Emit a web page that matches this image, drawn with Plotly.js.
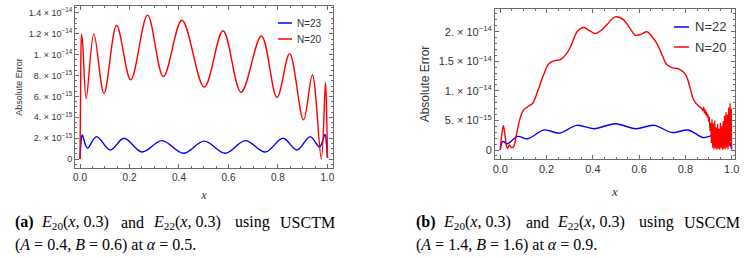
<!DOCTYPE html>
<html><head><meta charset="utf-8">
<script src="https://cdn.plot.ly/plotly-3.0.1.min.js"></script>
<style>html,body{margin:0;padding:0;background:#fff}#chart{width:754px;height:258px}</style>
</head><body><div id="chart"></div>
<script>
// values in units of 1e-15
const UNIT = 1e-15;

// ---- Panel (a): USCTM ----
const aN23x = [0, 0.004, 0.009, 0.03, 0.067, 0.122, 0.178, 0.25, 0.331, 0.418, 0.502, 0.587, 0.668, 0.749, 0.82, 0.877, 0.93, 0.968, 0.99, 0.996, 1.0];
const aN23y = [0, 1.6, 2.3, 1.05, 2.15, 0.87, 1.99, 0.67, 1.76, 0.55, 1.72, 0.55, 1.76, 0.67, 1.99, 0.87, 2.15, 1.15, 2.35, 1.4, 0.1];
const aN20x = [0, 0.003, 0.006, 0.011, 0.025, 0.056, 0.097, 0.148, 0.205, 0.273, 0.337, 0.412, 0.502, 0.578, 0.651, 0.733, 0.796, 0.847, 0.903, 0.939, 0.975, 0.992, 0.997, 1.0];
const aN20y = [0, 8.0, 12.0, 11.0, 5.8, 12.0, 6.3, 12.8, 7.6, 13.8, 7.9, 13.3, 6.9, 12.3, 6.4, 11.8, 5.9, 10.1, 3.75, 8.05, 0.05, 7.35, 4.0, 0.1];

// ---- Panel (b): USCCM ----
const bN22x = [0, 0.006, 0.012, 0.03, 0.075, 0.118, 0.19, 0.255, 0.33, 0.405, 0.497, 0.585, 0.664, 0.743, 0.812, 0.877, 0.925, 0.96, 0.985, 0.995, 1.0];
const bN22y = [0, 1.2, 1.45, 1.05, 2.3, 1.9, 3.4, 2.85, 4.17, 3.6, 4.45, 3.6, 4.17, 2.95, 3.38, 2.1, 2.55, 2.5, 1.9, 0.9, 0.1];
const bN20x = [0, 0.006, 0.013, 0.02, 0.027, 0.032, 0.039, 0.048, 0.058, 0.068, 0.085, 0.1, 0.118, 0.14, 0.16, 0.188, 0.21, 0.235, 0.26, 0.285, 0.305, 0.332, 0.36, 0.385, 0.41, 0.435, 0.461, 0.497, 0.533, 0.56, 0.583, 0.61, 0.634, 0.655, 0.677, 0.7, 0.72, 0.745, 0.77, 0.8, 0.818, 0.835, 0.852, 0.871, 0.876];
const bN20y = [0, 2.5, 4.1, 2.6, 0.6, 0.3, 0.85, 0.4, 0.6, 2.3, 5.3, 6.75, 7.3, 7.9, 9.8, 12.8, 14.6, 15.1, 15.3, 16.2, 17.6, 20.0, 20.7, 20.2, 19.7, 20.2, 21.2, 22.5, 22.0, 20.6, 19.4, 19.6, 20.0, 19.2, 18.0, 16.0, 14.4, 13.9, 13.7, 12.8, 10.8, 8.5, 7.6, 7.0, 6.6];
// noisy tail of N=20 in panel (b)
const bN20tailX = [0.876, 0.879, 0.882, 0.885, 0.888, 0.891, 0.894, 0.897, 0.9, 0.903, 0.906, 0.909, 0.912, 0.915, 0.918, 0.921, 0.924, 0.927, 0.93, 0.933, 0.936, 0.939, 0.942, 0.945, 0.948, 0.951, 0.954, 0.957, 0.96, 0.963, 0.966, 0.969, 0.972, 0.975, 0.978, 0.981, 0.984, 0.987, 0.99, 0.993, 0.996, 0.998, 1.0];
const bN20tailY = [6.6, 7.3, 6.2, 6.9, 5.9, 6.5, 5.5, 6.1, 4.8, 5.6, 3.2, 4.6, 1.2, 5.2, 0.4, 4.5, 0.1, 5.0, 0.3, 3.8, 0.05, 4.4, 0.2, 3.6, 0.05, 4.6, 0.3, 4.0, 0.05, 4.9, 0.2, 5.8, 0.1, 6.4, 0.4, 6.0, 0.1, 7.2, 0.6, 7.9, 1.5, 7.0, 0.3];

// ---- ticks ----
const xTickVals = [0, 0.2, 0.4, 0.6, 0.8, 1.0];
const aYTickVals = [0, 2, 4, 6, 8, 10, 12, 14];
const aYTickText = ["0", "2. × 10<sup>−15</sup>", "4. × 10<sup>−15</sup>", "6. × 10<sup>−15</sup>", "8. × 10<sup>−15</sup>", "1. × 10<sup>−14</sup>", "1.2 × 10<sup>−14</sup>", "1.4 × 10<sup>−14</sup>"];
const bYTickVals = [0, 5, 10, 15, 20];
const bYTickText = ["0", "5. × 10<sup>−15</sup>", "1. × 10<sup>−14</sup>", "1.5 × 10<sup>−14</sup>", "2. × 10<sup>−14</sup>"];

// ---- legend labels ----
const aLegend = ['N=23', 'N=20'];
const bLegend = ['N=22', 'N=20'];

const sc = a => a.map(v => v * UNIT);
const W = 754, H = 258;
const px = v => v / W, py = v => 1 - v / H;

const BLUE = '#0000ff', RED = '#ff0000';
const traces = [
  {x: aN23x, y: sc(aN23y), name: aLegend[0], mode: 'lines', line: {color: BLUE, width: 1.4, shape: 'spline'}, xaxis: 'x', yaxis: 'y'},
  {x: aN20x, y: sc(aN20y), name: aLegend[1], mode: 'lines', line: {color: RED, width: 1.4, shape: 'spline'}, xaxis: 'x', yaxis: 'y'},
  {x: bN22x, y: sc(bN22y), name: bLegend[0], mode: 'lines', line: {color: BLUE, width: 1.4, shape: 'spline'}, xaxis: 'x2', yaxis: 'y2'},
  {x: bN20x, y: sc(bN20y), name: bLegend[1], mode: 'lines', line: {color: RED, width: 1.4, shape: 'spline'}, xaxis: 'x2', yaxis: 'y2'},
  {x: bN20tailX, y: sc(bN20tailY), name: bLegend[1], mode: 'lines', line: {color: RED, width: 1.2}, xaxis: 'x2', yaxis: 'y2'}
];

const FRAME = '#6a6a6a';
const base = {showline: true, linecolor: FRAME, linewidth: 1, mirror: 'allticks', ticks: 'inside', ticklen: 4, tickcolor: FRAME, zeroline: false, showgrid: false, tickfont: {family: 'Liberation Sans', color: '#333'}};

const layout = {
  width: W, height: H, margin: {l: 0, r: 0, t: 0, b: 0}, paper_bgcolor: '#fff', plot_bgcolor: '#fff',
  font: {family: 'Liberation Sans', color: '#333'},
  showlegend: false,
  xaxis: Object.assign({}, base, {domain: [px(75), px(333)], range: [-0.0202, 1.0223], tickvals: xTickVals, tickformat: '.1f', tickfont: {family: 'Liberation Sans', size: 10, color: '#333'},
    minor: {ticks: 'inside', ticklen: 2, dtick: 0.05, tickcolor: FRAME},
    title: {text: '<i>x</i>', font: {family: 'Liberation Serif', size: 12, color: '#333'}, standoff: 8}, anchor: 'y'}),
  yaxis: Object.assign({}, base, {domain: [py(168), py(6)], range: [-0.86 * UNIT, 14.67 * UNIT], tickvals: sc(aYTickVals), ticktext: aYTickText, tickfont: {family: 'Liberation Sans', size: 9, color: '#333'},
    minor: {ticks: 'inside', ticklen: 2, dtick: 0.5 * UNIT, tickcolor: FRAME},
    title: {text: 'Absolute Error', font: {family: 'Liberation Sans', size: 9, color: '#333'}, standoff: 4}, anchor: 'x'}),
  xaxis2: Object.assign({}, base, {domain: [px(495), px(735)], range: [-0.0229, 1.0142], tickvals: xTickVals, tickformat: '.1f', tickfont: {family: 'Liberation Sans', size: 11, color: '#333'},
    minor: {ticks: 'inside', ticklen: 2, dtick: 0.05, tickcolor: FRAME},
    title: {text: '<i>x</i>', font: {family: 'Liberation Serif', size: 13, color: '#333'}, standoff: 12}, anchor: 'y2'}),
  yaxis2: Object.assign({}, base, {domain: [py(159), py(9)], range: [-1.52 * UNIT, 23.84 * UNIT], tickvals: sc(bYTickVals), ticktext: bYTickText, tickfont: {family: 'Liberation Sans', size: 11, color: '#333'},
    minor: {ticks: 'inside', ticklen: 2, dtick: 1 * UNIT, tickcolor: FRAME},
    title: {text: 'Absolute Error', font: {family: 'Liberation Sans', size: 12, color: '#333'}, standoff: 6}, anchor: 'x2'}),
  annotations: [],
  shapes: []
};

// legend keys (drawn as decoration inside each panel)
function addLegend(labels, colors, x0, x1, xt, ys, size) {
  labels.forEach((lab, i) => {
    layout.shapes.push({type: 'line', xref: 'paper', yref: 'paper', x0: px(x0), x1: px(x1), y0: py(ys[i]), y1: py(ys[i]), line: {color: colors[i], width: 1.5}});
    layout.annotations.push({xref: 'paper', yref: 'paper', x: px(xt), y: py(ys[i]), xanchor: 'left', yanchor: 'middle', text: lab, showarrow: false, font: {family: 'Liberation Sans', size: size, color: '#333'}});
  });
}
addLegend(aLegend, [BLUE, RED], 278, 292, 295, [23, 39], 10);
addLegend(bLegend, [BLUE, RED], 674, 689, 693, [27, 47], 13);

// captions
const capFont = {family: 'Liberation Serif', size: 16, color: '#000'};
const capA1 = [[13, '<b>(a)</b>'], [39, '<i>E</i><sub>20</sub>(<i>x</i>, 0.3)'], [119, 'and'], [151, '<i>E</i><sub>22</sub>(<i>x</i>, 0.3)'], [233, 'using'], [278, 'USCTM']];
const capA2 = [[13, '(<i>A</i> = 0.4, <i>B</i> = 0.6) at <i>α</i> = 0.5.']];
const capB1 = [[414, '<b>(b)</b>'], [441, '<i>E</i><sub>20</sub>(<i>x</i>, 0.3)'], [524, 'and'], [555, '<i>E</i><sub>22</sub>(<i>x</i>, 0.3)'], [637, 'using'], [682, 'USCCM']];
const capB2 = [[414, '(<i>A</i> = 1.4, <i>B</i> = 1.6) at <i>α</i> = 0.9.']];
function addCap(list, ypx) {
  list.forEach(([xp, t]) => layout.annotations.push({xref: 'paper', yref: 'paper', x: px(xp), y: py(ypx), xanchor: 'left', yanchor: 'middle', text: t, showarrow: false, font: capFont}));
}
addCap(capA1, 222); addCap(capA2, 244.5); addCap(capB1, 222); addCap(capB2, 244.5);

Plotly.newPlot('chart', traces, layout, {displayModeBar: false, staticPlot: true});
</script>
</body></html>
